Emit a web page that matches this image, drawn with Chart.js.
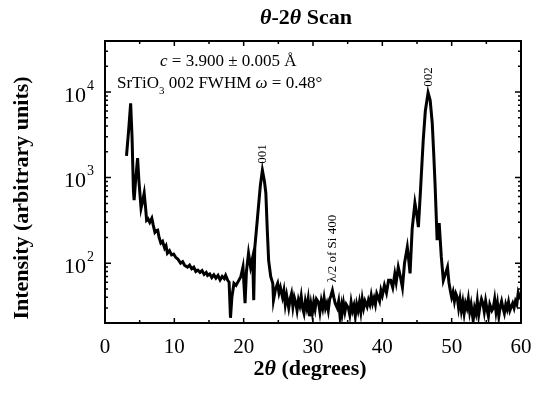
<!DOCTYPE html>
<html>
<head>
<meta charset="utf-8">
<script src="https://cdn.jsdelivr.net/npm/chart.js@4.4.0/dist/chart.umd.min.js"></script>
<style>
  html, body { margin: 0; padding: 0; background: #fff; }
  #box { width: 538px; height: 396px; }
</style>
</head>
<body>
<div id="box"><canvas id="xrd" width="538" height="396"></canvas></div>
<script>
// 2theta (degrees) and intensity
const twoTheta = [
  3.1, 3.4, 3.7, 3.9, 4.1, 4.2, 4.4, 4.7, 4.9, 5.2, 5.4, 5.65, 5.85, 6.0, 6.2, 6.45, 6.75, 6.95,
  7.2, 7.4, 7.6, 7.8, 8.05, 8.3, 8.6, 8.8, 9.0, 9.3, 9.6, 9.9, 10.2, 10.5, 10.9, 11.2, 11.5, 11.9,
  12.2, 12.5, 12.8, 13.1, 13.4, 13.7, 14.0, 14.3, 14.6, 14.8, 15.1, 15.4, 15.7, 16.0, 16.3, 16.6,
  16.9, 17.2, 17.4, 17.7, 17.9, 18.1, 18.3, 18.6, 18.9, 19.3, 19.6, 19.9, 20.2, 20.4, 20.7, 21.0,
  21.3, 21.45, 21.6, 22.0, 22.4, 22.7, 23.0, 23.2, 23.4, 23.6, 23.9, 24.2, 24.3, 24.6, 24.9, 25.1,
  25.3, 25.6, 25.8, 26.0, 26.2, 26.5, 26.7, 26.9, 27.1, 27.3, 27.5, 27.7, 27.9, 28.1, 28.3, 28.5,
  28.7, 28.9, 29.1, 29.3, 29.5, 29.7, 29.9, 30.1, 30.3, 30.5, 30.8, 31.0, 31.2, 31.4, 31.6, 31.8,
  32.0, 32.2, 32.4, 32.6, 32.8, 33.0, 33.2, 33.5, 33.7, 33.9, 34.1, 34.2, 34.4, 34.6, 34.8, 35.1,
  35.3, 35.5, 35.7, 35.9, 36.1, 36.3, 36.5, 36.7, 36.9, 37.1, 37.3, 37.5, 37.8, 38.0, 38.2, 38.4,
  38.6, 38.8, 39.0, 39.2, 39.4, 39.6, 39.8, 40.0, 40.3, 40.6, 40.9, 41.2, 41.5, 41.8, 42.0, 42.3,
  42.6, 42.9, 43.2, 43.6, 43.8, 44.0, 44.3, 44.7, 44.95, 45.2, 45.5, 45.9, 46.2, 46.6, 46.9, 47.2,
  47.4, 47.6, 47.9, 48.2, 48.5, 48.8, 49.1, 49.4, 49.6, 49.8, 50.0, 50.2, 50.4, 50.6, 50.8, 51.0,
  51.2, 51.4, 51.6, 51.8, 52.0, 52.2, 52.4, 52.6, 52.8, 53.1, 53.3, 53.5, 53.7, 53.9, 54.1, 54.3,
  54.5, 54.7, 54.9, 55.1, 55.3, 55.5, 55.8, 56.0, 56.2, 56.4, 56.6, 56.8, 57.0, 57.2, 57.4, 57.6,
  57.8, 58.0, 58.2, 58.4, 58.6, 58.8, 59.0, 59.2, 59.4, 59.6, 59.8, 60.0
];
const intensity = [
  1800, 3500, 7400, 3000, 700, 545, 900, 1690, 900, 440, 520, 660, 450, 318, 330, 300, 335, 280,
  230, 240, 243, 200, 172, 180, 150, 160, 131, 140, 125, 128, 117, 112, 100, 104, 94, 90,
  95, 86, 90, 80, 83, 78, 82, 74, 78, 72, 75, 68, 73, 67, 72, 64,
  70, 66, 72, 63, 60, 23, 40, 58, 55, 63, 70, 90, 34, 80, 131, 90,
  117, 37, 150, 345, 800, 1220, 900, 660, 250, 108, 70, 58, 37, 50, 58, 45,
  52, 40, 48, 33, 42, 30, 38, 44, 31, 40, 35, 28, 37, 32, 41, 30,
  26, 36, 30, 38, 24, 33, 26, 35, 29, 38, 35, 27, 36, 30, 39, 30,
  34, 28, 38, 42, 48, 40, 34, 30, 36, 24, 31, 26, 34, 27, 33, 30,
  25, 35, 28, 32, 24, 33, 28, 35, 27, 38, 30, 36, 31, 37, 33, 42,
  34, 39, 33, 44, 40, 36, 48, 42, 55, 45, 63, 63, 52, 75, 60, 90,
  70, 52, 100, 154, 110, 76, 250, 505, 380, 264, 700, 2750, 6000, 9800, 8000, 4330,
  2000, 860, 186, 294, 120, 63, 75, 90, 60, 48, 40, 46, 36, 44, 40, 30,
  38, 28, 35, 26, 34, 30, 38, 27, 33, 21.5, 30, 26, 36, 25, 32, 38,
  34, 27, 36, 29, 24, 33, 28, 30, 38, 27, 34, 24, 31, 36, 30, 26,
  33, 29, 35, 28, 31, 34, 30, 36, 33, 45, 40, 38
];

// axis ticks
const xMajor = [0, 10, 20, 30, 40, 50, 60];
const xMinor = [5, 15, 25, 35, 45, 55];
const yDecades = [100, 1000, 10000];
const yExp = ['2', '3', '4'];

// peak labels: [2theta, intensity where text starts, text]
const peakLabels = [
  [22.7, 1450, '001'],
  [46.6, 11500, '002'],
  [32.8, 60, 'λ/2 of Si 400']
];

const SERIF = '"Liberation Serif", "DejaVu Serif", serif';

// draws the frame, inside ticks and all texts
const decor = {
  id: 'decor',
  afterDraw(chart) {
    const ctx = chart.ctx, a = chart.chartArea;
    const xs = chart.scales.x, ys = chart.scales.y;
    ctx.save();
    ctx.strokeStyle = '#000';
    ctx.fillStyle = '#000';
    ctx.lineWidth = 2;
    ctx.strokeRect(a.left, a.top, a.right - a.left, a.bottom - a.top);

    // x ticks, top and bottom
    ctx.lineWidth = 1.5;
    const xt = (v, len) => {
      const p = xs.getPixelForValue(v);
      ctx.beginPath();
      ctx.moveTo(p, a.bottom); ctx.lineTo(p, a.bottom - len);
      ctx.moveTo(p, a.top); ctx.lineTo(p, a.top + len);
      ctx.stroke();
    };
    xMajor.forEach(v => xt(v, 5));
    xMinor.forEach(v => xt(v, 3));

    // y ticks, left and right
    const yt = (v, len) => {
      if (v < ys.min || v > ys.max) return;
      const p = ys.getPixelForValue(v);
      ctx.beginPath();
      ctx.moveTo(a.left, p); ctx.lineTo(a.left + len, p);
      ctx.moveTo(a.right, p); ctx.lineTo(a.right - len, p);
      ctx.stroke();
    };
    [10, 100, 1000, 10000].forEach(d => {
      yt(d, 6);
      for (let k = 2; k <= 9; k++) yt(d * k, 3);
    });

    // x tick labels
    ctx.font = '21px ' + SERIF;
    ctx.textAlign = 'center';
    ctx.textBaseline = 'middle';
    xMajor.forEach(v => ctx.fillText(String(v), xs.getPixelForValue(v), 347));

    // y tick labels 10^n
    yDecades.forEach((d, i) => {
      const p = ys.getPixelForValue(d);
      ctx.font = '14px ' + SERIF;
      const ew = ctx.measureText(yExp[i]).width;
      ctx.textAlign = 'left';
      ctx.fillText(yExp[i], 94 - ew, p - 6);
      ctx.font = '22px ' + SERIF;
      ctx.textAlign = 'right';
      ctx.fillText('10', 93 - ew, p + 4);
    });

    // run of text pieces with own fonts, centred on cx
    const runs = (parts, cx, cy) => {
      let w = 0;
      parts.forEach(q => { ctx.font = q[1]; w += ctx.measureText(q[0]).width; });
      let x = cx - w / 2;
      ctx.textAlign = 'left';
      parts.forEach(q => { ctx.font = q[1]; ctx.fillText(q[0], x, cy); x += ctx.measureText(q[0]).width; });
    };
    const B = 'bold 22px ' + SERIF, BI = 'italic bold 22px ' + SERIF;
    runs([['θ', BI], ['-2', B], ['θ', BI], [' Scan', B]], 306, 18);
    const B2 = 'bold 22px ' + SERIF, BI2 = 'italic bold 22px ' + SERIF;
    runs([['2', B2], ['θ', BI2], [' (degrees)', B2]], 310, 369);

    // y axis title
    ctx.save();
    ctx.translate(22, 198);
    ctx.rotate(-Math.PI / 2);
    ctx.font = 'bold 22px ' + SERIF;
    ctx.textAlign = 'center';
    ctx.fillText('Intensity (arbitrary units)', 0, 0);
    ctx.restore();

    // annotation lines
    ctx.textAlign = 'left';
    ctx.textBaseline = 'alphabetic';
    const F = '17px ' + SERIF, FI = 'italic 17px ' + SERIF;
    let x = 160;
    ctx.font = FI; ctx.fillText('c', x, 66); x += ctx.measureText('c').width;
    ctx.font = F; ctx.fillText(' = 3.900 ± 0.005 Å', x, 66);
    x = 117;
    ctx.font = F;
    ctx.fillText('SrTiO', x, 88); x += ctx.measureText('SrTiO').width;
    ctx.font = '11px ' + SERIF; ctx.fillText('3', x, 94); x += ctx.measureText('3').width;
    ctx.font = F;
    ctx.fillText(' 002 FWHM ', x, 88); x += ctx.measureText(' 002 FWHM ').width;
    ctx.font = FI; ctx.fillText('ω', x, 88); x += ctx.measureText('ω').width;
    ctx.font = F; ctx.fillText(' = 0.48°', x, 88);

    // rotated peak labels
    peakLabels.forEach(([t, v, s]) => {
      ctx.save();
      ctx.translate(xs.getPixelForValue(t), ys.getPixelForValue(v));
      ctx.rotate(-Math.PI / 2);
      ctx.font = '13px ' + SERIF;
      ctx.textAlign = 'left';
      ctx.textBaseline = 'middle';
      ctx.fillText(s, 0, 0);
      ctx.restore();
    });
    ctx.restore();
  }
};

new Chart(document.getElementById('xrd'), {
  type: 'line',
  data: {
    labels: twoTheta,
    datasets: [{
      data: intensity,
      borderColor: '#000',
      borderWidth: 3,
      pointRadius: 0,
      tension: 0,
      fill: false
    }]
  },
  options: {
    responsive: false,
    animation: false,
    layout: { padding: { left: 105, right: 17, top: 41, bottom: 73 } },
    plugins: { legend: { display: false }, tooltip: { enabled: false }, title: { display: false } },
    scales: {
      x: { type: 'linear', min: 0, max: 60, display: false },
      y: { type: 'logarithmic', min: 20, max: 39500, display: false }
    }
  },
  plugins: [decor]
});
</script>
</body>
</html>
